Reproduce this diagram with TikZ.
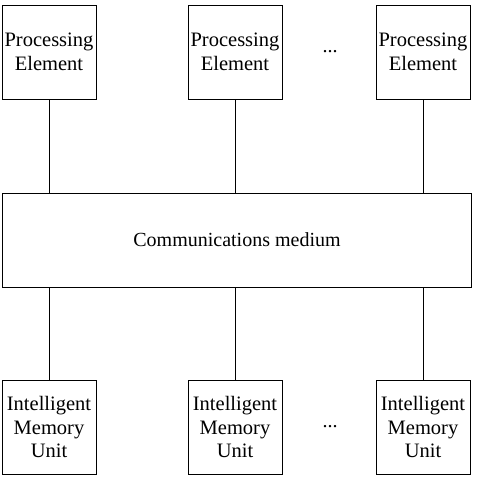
\documentclass[tikz,border=0pt]{standalone}
\usepackage{fontspec}
\setmainfont{Liberation Serif}
\begin{document}
\begin{tikzpicture}[x=1pt,y=-1pt,
  box/.style={draw, line width=0.9pt, minimum width=94pt, minimum height=94pt, inner sep=0pt, align=center, font=\fontsize{20.5}{23.5}\selectfont},
  wide/.style={draw, line width=0.9pt, minimum width=469pt, minimum height=94pt, inner sep=0pt, font=\fontsize{20}{23}\selectfont},
  dots/.style={font=\fontsize{20}{23}\selectfont},
  link/.style={line width=0.7pt}]
\useasboundingbox (0,0) rectangle (478,498);
\node[box] (p1) at (49,52) {Processing\\Element};
\node[box] (p2) at (235,52) {Processing\\Element};
\node[box] (p3) at (423,52) {Processing\\Element};
\node[dots] (d1) at (330,52) {...};
\node[wide] (cm) at (237,240) {Communications medium};
\node[box] (m1) at (49,427) {Intelligent\\Memory\\Unit};
\node[box] (m2) at (235,427) {Intelligent\\Memory\\Unit};
\node[box] (m3) at (423,427) {Intelligent\\Memory\\Unit};
\node[dots] (d2) at (330,427) {...};
\draw[link] (p1.south) -- (p1.south |- cm.north);
\draw[link] (p2.south) -- (p2.south |- cm.north);
\draw[link] (p3.south) -- (p3.south |- cm.north);
\draw[link] (m1.north) -- (m1.north |- cm.south);
\draw[link] (m2.north) -- (m2.north |- cm.south);
\draw[link] (m3.north) -- (m3.north |- cm.south);
\end{tikzpicture}
\end{document}
